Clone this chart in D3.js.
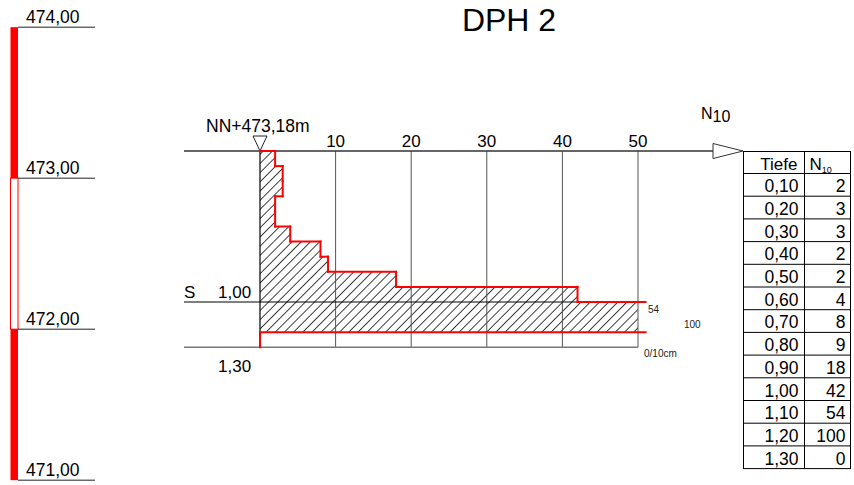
<!DOCTYPE html>
<html><head><meta charset="utf-8">
<script src="https://cdn.jsdelivr.net/npm/d3@7"></script>
<style>body{margin:0;background:#fff}svg{display:block;font-family:"Liberation Sans",Arial,sans-serif}</style>
</head><body><svg id="c" width="854" height="485"></svg>
<script>
// ---- data ----
const title = "DPH 2";
const depths = [0.10,0.20,0.30,0.40,0.50,0.60,0.70,0.80,0.90,1.00,1.10,1.20,1.30];
const depthLabels = ["0,10","0,20","0,30","0,40","0,50","0,60","0,70","0,80","0,90","1,00","1,10","1,20","1,30"];
const n10 = [2,3,3,2,2,4,8,9,18,42,54,100,0];
const xTicks = [10,20,30,40,50];
const elevTicks = [474,473,472,471];
const elevLabels = ["474,00","473,00","472,00","471,00"];
const barSegments = [{from:474,to:473,filled:true},{from:473,to:472,filled:false},{from:472,to:471,filled:true}];
const groundElev = 473.18;
const groundLabel = "NN+473,18m";
const waterDepth = 1.00, waterLabel = "S", waterDepthLabel = "1,00";
const endDepth = 1.30, endDepthLabel = "1,30";
const maxN = 50;

// ---- scales ----
const svg = d3.select("#c");
const pxPerM = 151;
const x = d3.scaleLinear().domain([0, maxN]).range([260, 638]);
const y = d3.scaleLinear().domain([0, 1]).range([151, 151 + pxPerM]);
const yE = d3.scaleLinear().domain([groundElev, groundElev - 1]).range([151, 151 + pxPerM]);
const red = "#ff0000";

// title
svg.append("text").attr("x", 509).attr("y", 31).attr("text-anchor","middle")
  .attr("font-size", 32).text(title);

// ---- left elevation scale ----
svg.selectAll("rect.bar").data(barSegments).join("rect")
  .attr("x", 10.5).attr("width", 7.5)
  .attr("y", d => yE(d.from)).attr("height", d => yE(d.to) - yE(d.from))
  .attr("fill", d => d.filled ? red : "#fff")
  .attr("stroke", red).attr("stroke-width", d => d.filled ? 0 : 1);
svg.selectAll("line.el").data(elevTicks).join("line")
  .attr("x1", 18).attr("x2", 95).attr("y1", d => yE(d)).attr("y2", d => yE(d))
  .attr("stroke", "#222").attr("stroke-width", 1);
svg.selectAll("text.el").data(elevTicks).join("text")
  .attr("x", 26).attr("y", d => yE(d) - 4).attr("font-size", 17.5)
  .text((d,i) => elevLabels[i]);

// ---- hatch pattern ----
const defs = svg.append("defs");
const pat = defs.append("pattern").attr("id","hatch").attr("patternUnits","userSpaceOnUse")
  .attr("width", 6.5).attr("height", 6.5).attr("patternTransform","rotate(45)");
pat.append("line").attr("x1",0).attr("y1",-1).attr("x2",0).attr("y2",7.5)
  .attr("stroke","#000").attr("stroke-width",1.5);

const intervals = n10.map((v,i) => ({d0: i===0 ? 0 : depths[i-1], d1: depths[i], v, over: v > maxN}));

svg.selectAll("rect.h").data(intervals.filter(d => d.v > 0)).join("rect")
  .attr("x", x(0)).attr("y", d => y(d.d0))
  .attr("width", d => x(Math.min(d.v, maxN)) - x(0))
  .attr("height", d => y(d.d1) - y(d.d0))
  .attr("fill", "url(#hatch)");

// ---- grid ----
svg.selectAll("line.g").data(xTicks).join("line")
  .attr("x1", d => x(d)).attr("x2", d => x(d)).attr("y1", y(0)).attr("y2", y(endDepth))
  .attr("stroke", "#555").attr("stroke-width", 1);
svg.selectAll("text.g").data(xTicks).join("text")
  .attr("x", d => x(d)).attr("y", y(0) - 4).attr("text-anchor","middle")
  .attr("font-size", 17).text(d => d);
// top axis line
svg.append("line").attr("x1",184).attr("x2",714).attr("y1",y(0)).attr("y2",y(0))
  .attr("stroke","#333").attr("stroke-width",1.3);
// arrow
svg.append("path").attr("d", `M713,${y(0)-7.5} L743,${y(0)} L713,${y(0)+7.5} Z`)
  .attr("fill","#fff").attr("stroke","#333").attr("stroke-width",1);
// N10 label
const nl = svg.append("text").attr("x", 701).attr("y", 119).attr("font-size", 16);
nl.append("tspan").text("N");
nl.append("tspan").attr("dy", 3).attr("font-size", 16).text("10");
// bottom line
svg.append("line").attr("x1",184).attr("x2",x(maxN)).attr("y1",y(endDepth)).attr("y2",y(endDepth))
  .attr("stroke","#777").attr("stroke-width",1.5);
// water line
svg.append("line").attr("x1",184).attr("x2",x(maxN)).attr("y1",y(waterDepth)).attr("y2",y(waterDepth))
  .attr("stroke","#000").attr("stroke-width",1);
svg.append("text").attr("x",184).attr("y",y(waterDepth)-4).attr("font-size",17).text(waterLabel);
svg.append("text").attr("x",218).attr("y",y(waterDepth)-4).attr("font-size",17).text(waterDepthLabel);
svg.append("text").attr("x",218).attr("y",y(endDepth)+25).attr("font-size",17).text(endDepthLabel);
// zero line (black part)
svg.append("line").attr("x1",x(0)).attr("x2",x(0)).attr("y1",y(0)).attr("y2",y(depths[depths.length-2]))
  .attr("stroke","#000").attr("stroke-width",1.2);

// ground marker
svg.append("path").attr("d", `M${x(0)-7},${y(0)-15} L${x(0)+7},${y(0)-15} L${x(0)},${y(0)} Z`)
  .attr("fill","#fff").attr("stroke","#222").attr("stroke-width",1);
svg.append("text").attr("x",206).attr("y",y(0)-19).attr("font-size",17.5).text(groundLabel);

// ---- red profile ----
const xc = v => x(v > maxN ? maxN + 1 : v);
const segs = [];
let prev = 0;
intervals.forEach(d => {
  segs.push([xc(prev), y(d.d0), xc(d.v), y(d.d0)]);
  if (!d.over) segs.push([xc(d.v), y(d.d0), xc(d.v), y(d.d1)]);
  prev = d.v;
});
svg.selectAll("line.r").data(segs.filter(s => s[0]!==s[2] || s[1]!==s[3])).join("line")
  .attr("x1", s => s[0]).attr("y1", s => s[1]).attr("x2", s => s[2]).attr("y2", s => s[3])
  .attr("stroke", red).attr("stroke-width", 2).attr("stroke-linecap","square");

// over-range labels
const overs = intervals.filter(d => d.over);
svg.selectAll("text.o").data(overs).join("text")
  .attr("x", (d,i) => x(maxN) + 10 + i*36).attr("y", (d,i) => y(d.d0) + 11)
  .attr("font-size", 10).attr("fill","#222").text(d => d.v);
svg.append("text").attr("x", x(maxN)+6).attr("y", y(endDepth)+10).attr("font-size",10)
  .attr("fill","#222").text("0/10cm");

// ---- table ----
const tx0 = 743.5, tx1 = 804.5, tx2 = 850.5, ty0 = 151.5, th = 22, rh = 22.7;
const tb = svg.append("g").attr("stroke","#000").attr("stroke-width",1);
const rowY = i => ty0 + th + i*rh;
const nRows = depths.length;
tb.append("rect").attr("x",tx0).attr("y",ty0).attr("width",tx2-tx0).attr("height",rowY(nRows)-ty0).attr("fill","none");
tb.append("line").attr("x1",tx1).attr("x2",tx1).attr("y1",ty0).attr("y2",rowY(nRows));
tb.selectAll("line.row").data(d3.range(nRows)).join("line")
  .attr("x1",tx0).attr("x2",tx2).attr("y1",i=>rowY(i)).attr("y2",i=>rowY(i));
svg.append("text").attr("x",tx1-7).attr("y",ty0+th-4).attr("text-anchor","end").attr("font-size",17).text("Tiefe");
const hn = svg.append("text").attr("x",tx1+5).attr("y",ty0+th-4).attr("font-size",17);
hn.append("tspan").text("N");
hn.append("tspan").attr("dy",3).attr("font-size",9).text("10");
svg.selectAll("text.td").data(depthLabels).join("text")
  .attr("x",tx1-6).attr("y",(d,i)=>rowY(i+1)-4).attr("text-anchor","end").attr("font-size",17.5).text(d=>d);
svg.selectAll("text.tn").data(n10).join("text")
  .attr("x",tx2-5).attr("y",(d,i)=>rowY(i+1)-4).attr("text-anchor","end").attr("font-size",17.5).text(d=>d);
</script></body></html>
